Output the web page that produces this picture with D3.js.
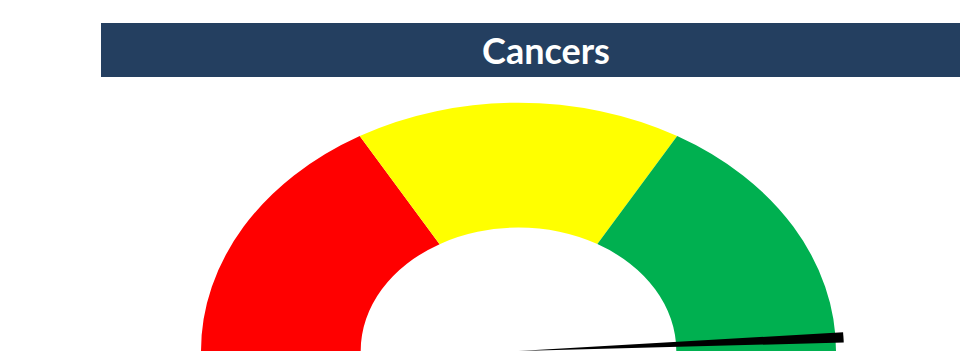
<!DOCTYPE html>
<html>
<head>
<meta charset="utf-8">
<script src="https://cdn.jsdelivr.net/npm/d3@7"></script>
<style>
  html, body { margin: 0; padding: 0; background: #fff; }
  svg { display: block; }
</style>
</head>
<body>
<svg id="chart" width="960" height="354"></svg>
<script>
// Gauge data: three equal bands spanning the half dial, plus the needle reading
const title = "Cancers";
const bandNames = ["Low", "Medium", "High"];
const bandValues = [33.33, 33.33, 33.34];
const scaleMin = 0;
const scaleMax = 100;
const needleValue = 98.3;

const bandColors = ["#FF0000", "#FFFF00", "#00B050"];

const svg = d3.select("#chart");
const W = 960, H = 354;

// Title banner
svg.append("rect")
  .attr("x", 101).attr("y", 23)
  .attr("width", W - 101).attr("height", 54)
  .attr("fill", "#243F60");

svg.append("text")
  .attr("x", 546).attr("y", 64)
  .attr("text-anchor", "middle")
  .attr("font-family", "Lato, 'Open Sans', sans-serif")
  .attr("font-weight", 700)
  .attr("font-size", 36)
  .attr("fill", "#ffffff")
  .text(title);

// Dial geometry (the dial is drawn round, then squashed vertically)
const cx = 518.5, cy = 351;
const outerR = 317.5;
const innerR = outerR * 0.497;
const squash = 0.782;

const angle = d3.scaleLinear()
  .domain([scaleMin, scaleMax])
  .range([-Math.PI / 2, Math.PI / 2]);

const g = svg.append("g")
  .attr("transform", `translate(${cx},${cy}) scale(1,${squash})`);

// Band arcs
let acc = scaleMin;
const bands = bandValues.map((v, i) => {
  const b = { name: bandNames[i], start: acc, end: acc + v, i };
  acc += v;
  return b;
});

const bandArc = d3.arc()
  .innerRadius(innerR)
  .outerRadius(outerR)
  .startAngle(d => angle(d.start))
  .endAngle(d => angle(d.end));

g.selectAll("path.band")
  .data(bands)
  .join("path")
  .attr("class", "band")
  .attr("d", bandArc)
  .attr("fill", d => bandColors[d.i]);

// Needle: a narrow wedge pivoting on the dial centre
const needleHalfWidth = (2.3 * Math.PI / 180) / 2;
const needleArc = d3.arc()
  .innerRadius(0)
  .outerRadius(outerR * 1.025)
  .startAngle(d => angle(d) - needleHalfWidth)
  .endAngle(d => angle(d) + needleHalfWidth);

g.selectAll("path.needle")
  .data([needleValue])
  .join("path")
  .attr("class", "needle")
  .attr("d", needleArc)
  .attr("fill", "#000000");
</script>
</body>
</html>
